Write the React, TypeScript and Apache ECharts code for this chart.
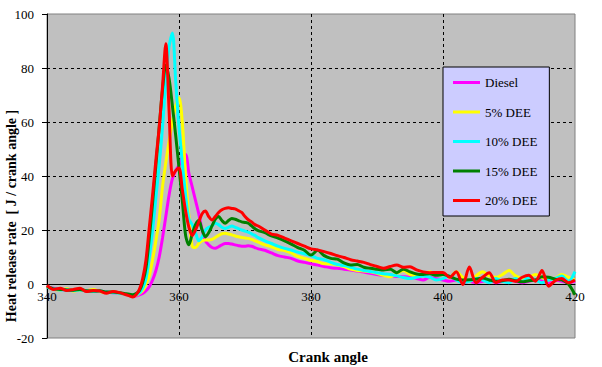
import React, { useEffect, useRef } from "react";
import * as echarts from "echarts";

const angles = [
  340, 341, 342, 343, 344, 345, 346, 347, 348, 349, 350, 351, 352,
  352.5, 353, 353.5, 354, 354.5, 355, 355.5, 356, 356.5, 357,
  357.5, 358, 358.5, 359, 359.5, 360, 360.5, 361, 361.5, 362,
  362.5, 363, 363.5, 364, 364.5, 365, 365.5, 366, 366.5, 367,
  367.5, 368, 368.5, 369, 369.5, 370, 370.5, 371, 371.5, 372,
  373, 374, 375, 376, 377, 378, 379, 380, 381, 382,
  383, 384, 385, 386, 387, 388, 389, 390, 391, 392,
  393, 394, 395, 396, 397, 398, 399, 400, 401, 402,
  403, 404, 405, 406, 407, 408, 409, 410, 411, 412,
  413, 414, 415, 416, 417, 418, 419, 420,
];

const diesel = [
  -1.2, -1.6, -2, -2.2, -2.4, -2.2, -2.6, -2.8, -2.6, -3, -3.2, -3.4, -3.8,
  -4, -4.3, -4.4, -4, -3.5, -2.5, -1, 1.5, 5, 10,
  17, 25, 33, 39, 42, 44, 47, 48, 41, 36,
  31, 26, 20, 16, 14.5, 13.5, 13.2, 13.8, 14.5, 15,
  15, 14.8, 14.5, 14.2, 14, 14, 14.2, 14, 13.5, 13,
  12.5, 11.5, 10.5, 10, 9.5, 8.5, 8, 7.5, 7, 6.5,
  6, 5.8, 5.5, 5.2, 4.8, 4.4, 4, 3.5, 3.2, 3,
  2.8, 2.7, 2.5, 2, 1.5, 2.5, 2, 1.5, 1, 1.5,
  0.5, 1, 0.5, 1, 1.5, 0.5, 1, 1.5, 1, 0.5,
  1, 1.5, 1, 0.5, 1.5, 1, 0.5, 1,
];

const dee5 = [
  -1, -2, -2.2, -1.8, -2.6, -2.2, -2.4, -2, -2.8, -3.2, -3, -3.4, -3.8,
  -4, -4.3, -4.2, -3.5, -2.5, 0, 3, 9, 16, 24,
  36, 45, 53, 60, 66, 69, 60, 40, 25, 14,
  13.5, 15, 16, 16.3, 16.3, 16.5, 17.2, 18, 18.6, 18.8,
  18.5, 18.2, 17.8, 17.5, 17.2, 17, 16.9, 16.5, 16, 15.5,
  14.5, 13.8, 12.8, 12.4, 11.5, 10.2, 9.5, 8.7, 8.3, 7.5,
  7.5, 7, 6.5, 5.5, 5, 4.8, 4.5, 4, 3.2, 2.7,
  4, 5, 3.5, 3, 3.5, 4.5, 3.5, 3.5, 2.5, 4.5,
  2.5, 1, 3, 4.5, 3, 2.5, 3.5, 5, 3, 2,
  2.5, 3.5, 2.5, 1.5, 2, 3.5, 2.5, 1.5,
];

const dee10 = [
  -1.2, -1.8, -2.2, -2, -2.4, -2.2, -2.4, -2.8, -2.6, -3, -3.2, -3.4, -3.8,
  -4, -4.2, -4, -3.3, -1.5, 2, 10, 20, 32, 44,
  58, 75, 88, 93, 75, 58, 45, 33, 24, 22,
  19, 16, 17.5, 20, 21, 21.5, 22.5, 22, 21, 20.6,
  21, 21.5, 21, 20.5, 20, 19.6, 19.2, 18.6, 18, 17.2,
  16, 15, 14, 13.2, 12.6, 11.8, 11.2, 10.5, 9.5, 9,
  8, 7.2, 6.8, 6.2, 5.5, 5, 4.6, 4.2, 3.8, 3.5,
  3, 2.4, 2, 2.5, 3, 2.5, 1.5, 2, 3, 1.5,
  0.5, 1, 2, 1.5, 0.5, 2, 1, 0.5, 2, 1,
  2.5, 1.5, 0.5, 1.5, 2, 3, 1, 4.6,
];

const dee15 = [
  -1, -1.8, -2, -2.2, -2.3, -2, -2.5, -2.6, -2.5, -3, -3, -3.2, -3.6,
  -3.8, -4, -3.5, -2.5, 0.5, 6, 17, 30, 44, 58,
  72, 81, 76, 66, 55, 43, 31, 18, 14.5, 18.5,
  22, 23.5, 20, 17.5, 19, 21.5, 24, 25, 23.5, 22.5,
  23.5, 24.3, 24, 23.5, 23, 22.8, 22.5, 21.5, 20.5, 19.8,
  19, 17.8, 17, 16, 14.8, 13.5, 12.5, 10.7, 12.5, 10.5,
  9.5, 9.2, 7.8, 7, 7.2, 6.2, 5.8, 5.5, 5.2, 5.5,
  4.2, 5.5, 4.5, 3.7, 3.5, 3.8, 3.2, 3.5, 2.8, 1.8,
  1.5, 1.6, 1.8, 2.2, 1.5, 1, 1.2, 1.8, 1.2, 0.8,
  1.2, 1.5, 2.7, 2.5, 1.8, 1.5, 0, -4,
];

const dee20 = [
  -0.5, -2, -1.6, -2.4, -2, -1.6, -2.8, -2.4, -2.6, -3.4, -2.8, -3.2, -4,
  -4.4, -4.8, -4, -2, 2, 9, 21, 33, 46, 58,
  73, 89, 64, 40, 42, 43, 35, 27, 21, 18,
  20, 23, 26, 27, 25, 23.7, 25, 26.5, 27.5, 28,
  28.2, 28, 27.8, 27.2, 26.5, 25, 23.8, 23, 22, 21.5,
  20, 18.5, 18, 17, 16, 15, 14, 13, 12.6, 12,
  11.3, 10.5, 9.8, 9, 8.5, 8, 7.2, 6.5, 5.8, 6.5,
  7, 6.2, 6.4, 5.2, 4.5, 4.2, 4.3, 4.3, 2.5, 4.5,
  -0.2, 6.3, 0.5, 2.5, 4.2, 0.6, 1.5, 1.5, 1, 2.5,
  3.2, 1, 5, -0.8, 1.2, 2, 0.5, 1.5,
];

const seriesNames = ["Diesel", "5% DEE", "10% DEE", "15% DEE", "20% DEE"];
const seriesData = [diesel, dee5, dee10, dee15, dee20];
const seriesColors = ["#FF00FF", "#FFFF00", "#00FFFF", "#008000", "#FF0000"];

const xTitle = "Crank angle";
const yTitle = "Heat release rate  [ J / crank angle ]";

const FONT = "Liberation Serif, serif";

export default function App() {
  const ref = useRef<HTMLDivElement>(null);

  useEffect(() => {
    document.body.style.margin = "0";
    const chart = echarts.init(ref.current!, null, { renderer: "svg" });
    chart.setOption({
      animation: false,
      backgroundColor: "#FFFFFF",
      grid: {
        left: 47,
        right: 27,
        top: 14,
        bottom: 29,
        show: true,
        backgroundColor: "#C0C0C0",
        borderColor: "#808080",
        borderWidth: 1,
      },
      legend: {
        orient: "vertical",
        left: 443,
        top: 67,
        padding: [9, 12, 9, 10],
        itemGap: 16.5,
        itemWidth: 27,
        itemHeight: 3,
        icon: "rect",
        backgroundColor: "#CCCCFF",
        borderColor: "#000000",
        borderWidth: 1,
        borderRadius: 0,
        textStyle: { fontFamily: FONT, fontSize: 13, color: "#000", lineHeight: 12 },
        data: seriesNames,
      },
      xAxis: {
        type: "value",
        min: 340,
        max: 420,
        interval: 20,
        axisLine: { onZero: true, lineStyle: { color: "#000", width: 1 } },
        axisTick: { show: false },
        axisLabel: { color: "#000", fontFamily: FONT, fontSize: 13, margin: -48 },
        splitLine: {
          show: true,
          showMinLine: false,
          showMaxLine: false,
          lineStyle: { color: "#000", type: [3, 3], width: 1 },
        },
      },
      yAxis: {
        type: "value",
        min: -20,
        max: 100,
        interval: 20,
        axisLine: { show: true, onZero: false, lineStyle: { color: "#000", width: 1 } },
        axisTick: { show: true, inside: false, length: 5, lineStyle: { color: "#000" } },
        axisLabel: { color: "#000", fontFamily: FONT, fontSize: 13, margin: 13 },
        splitLine: {
          show: true,
          showMinLine: false,
          showMaxLine: false,
          lineStyle: { color: "#000", type: [3, 3], width: 1 },
        },
      },
      graphic: [
        {
          type: "text",
          x: 328,
          y: 357,
          style: {
            text: xTitle,
            font: `bold 15px ${FONT}`,
            fill: "#000",
            textAlign: "center",
            textVerticalAlign: "middle",
          },
        },
        {
          type: "text",
          x: 4,
          y: 216,
          rotation: Math.PI / 2,
          style: {
            text: yTitle,
            font: `bold 14px ${FONT}`,
            fill: "#000",
            textAlign: "center",
            textVerticalAlign: "top",
          },
        },
      ],
      series: seriesNames.map((name, i) => ({
        name,
        type: "line",
        data: angles.map((a, j) => [a, seriesData[i][j]]),
        symbol: "none",
        smooth: 0.3,
        lineStyle: { color: seriesColors[i], width: 3 },
        itemStyle: { color: seriesColors[i] },
      })),
    });
    return () => chart.dispose();
  }, []);

  return <div ref={ref} style={{ width: 602, height: 367 }} />;
}
